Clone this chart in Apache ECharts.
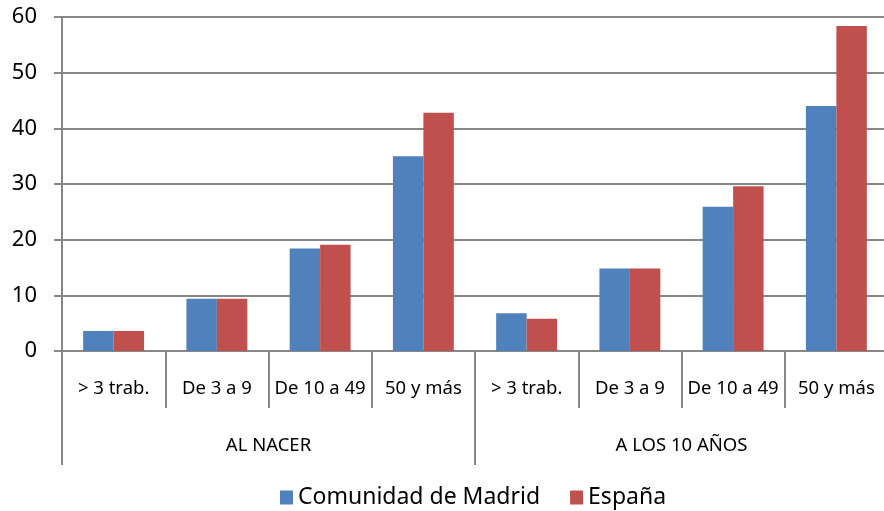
<!DOCTYPE html>
<html>
<head>
<meta charset="utf-8">
<script src="https://cdn.jsdelivr.net/npm/echarts@6/dist/echarts.min.js"></script>
<style>html,body{margin:0;padding:0;background:#fff;overflow:hidden}#c{width:894px;height:511px}</style>
</head>
<body>
<div id="c"></div>
<script>
const categories = ['> 3 trab.', 'De 3 a 9', 'De 10 a 49', '50 y más', '> 3 trab.', 'De 3 a 9', 'De 10 a 49', '50 y más'];
const groups = ['AL NACER', 'A LOS 10 AÑOS'];
const madrid = [3.6, 9.4, 18.4, 35.0, 6.8, 14.8, 25.9, 44.0];
const espana = [3.6, 9.4, 19.1, 42.8, 5.8, 14.8, 29.6, 58.4];
const yTicks = [0, 10, 20, 30, 40, 50, 60];

const FONT = '"Noto Sans", "Open Sans", sans-serif';
const GRAY = '#878787';
const chart = echarts.init(document.getElementById('c'));
chart.setOption({
  animation: false,
  textStyle: { fontFamily: FONT },
  grid: { left: 62, width: 826, top: 17, height: 334 },
  legend: {
    top: 481, left: 275,
    itemWidth: 13, itemHeight: 14, itemGap: 30,
    icon: 'rect',
    textStyle: { fontSize: 23, color: '#000', fontFamily: FONT },
    data: ['Comunidad de Madrid', 'España']
  },
  xAxis: [{
    type: 'category', data: categories, position: 'bottom',
    axisLine: { show: true, lineStyle: { color: GRAY, width: 2 } },
    axisTick: { show: true, interval: 0, length: 57, lineStyle: { color: GRAY, width: 2 } },
    axisLabel: { interval: 0, margin: 28, fontSize: 18.5, color: '#000', fontFamily: FONT }
  }, {
    type: 'category', data: groups, position: 'bottom',
    axisLine: { show: false },
    axisTick: { show: true, interval: 0, length: 114, lineStyle: { color: GRAY, width: 2 } },
    axisLabel: { interval: 0, margin: 85, fontSize: 18.5, color: '#000', fontFamily: FONT }
  }],
  yAxis: {
    type: 'value', min: yTicks[0], max: yTicks[yTicks.length - 1], interval: 10,
    axisLine: { show: true, lineStyle: { color: GRAY, width: 2 } },
    axisTick: { show: true, length: 8, lineStyle: { color: GRAY, width: 2 } },
    splitLine: { show: true, lineStyle: { color: GRAY, width: 2 } },
    axisLabel: { margin: 25, fontSize: 22, color: '#000', fontFamily: FONT }
  },
  series: [{
    name: 'Comunidad de Madrid', type: 'bar', data: madrid,
    itemStyle: { color: '#4F81BD' }, barGap: '0%', barCategoryGap: '41%'
  }, {
    name: 'España', type: 'bar', data: espana,
    itemStyle: { color: '#C0504D' }, barGap: '0%', barCategoryGap: '41%'
  }]
});
</script>
</body>
</html>
